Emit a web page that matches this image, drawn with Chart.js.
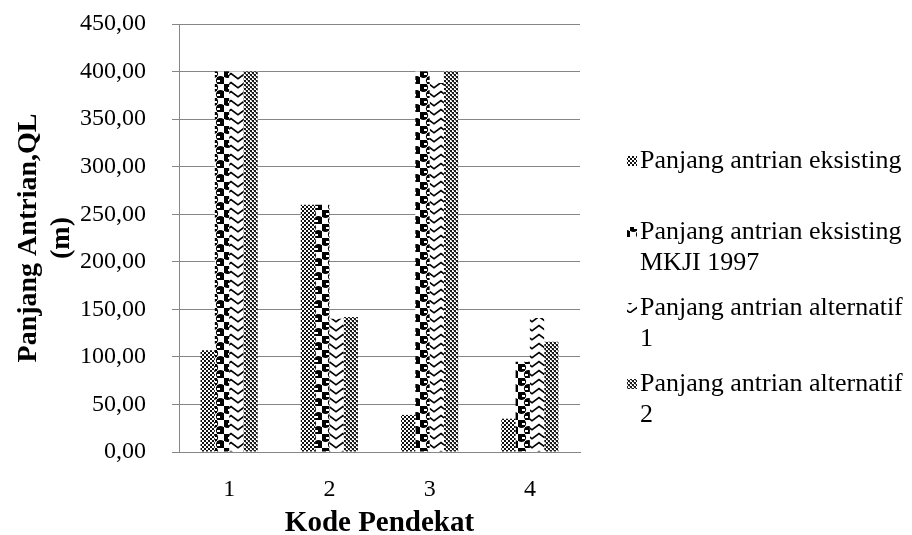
<!DOCTYPE html>
<html>
<head>
<meta charset="utf-8">
<script src="https://cdn.jsdelivr.net/npm/chart.js@4.4.0/dist/chart.umd.min.js"></script>
<style>
  html, body { margin: 0; padding: 0; background: #ffffff; }
  #wrap { width: 912px; height: 535px; }
</style>
</head>
<body>
<div id="wrap"><canvas id="c" width="912" height="535"></canvas></div>
<script>
// Queue lengths (m) per approach code
const kodePendekat = ['1', '2', '3', '4'];
const antrianEksisting = [107, 260, 39, 35];
const antrianMkji1997 = [400, 260, 400, 95];
const antrianAlternatif1 = [400, 140, 388, 141];
const antrianAlternatif2 = [400, 142, 400, 116];
const seriesNames = [
  ['Panjang antrian eksisting'],
  ['Panjang antrian eksisting', 'MKJI 1997'],
  ['Panjang antrian alternatif', '1'],
  ['Panjang antrian alternatif', '2']
];
const yMin = 0, yMax = 450, yStep = 50;

const SERIF = '"Liberation Serif", "Times New Roman", serif';
const canvas = document.getElementById('c');
const ctx = canvas.getContext('2d');

function tile(w, h, draw) {
  const c = document.createElement('canvas');
  c.width = w; c.height = h;
  const g = c.getContext('2d');
  g.fillStyle = '#ffffff';
  g.fillRect(0, 0, w, h);
  draw(g);
  return ctx.createPattern(c, 'repeat');
}

// fine checkerboard
const patEksisting = tile(4, 4, g => {
  g.fillStyle = '#111';
  g.fillRect(0, 0, 2, 2);
  g.fillRect(2, 2, 2, 2);
});

// black blobs with white dashes
const patMkji = tile(14, 14, g => {
  g.fillStyle = '#000';
  g.beginPath(); g.arc(3.5, 3.5, 4.6, 0, Math.PI * 2); g.fill();
  g.beginPath(); g.arc(10.5, 10.5, 4.6, 0, Math.PI * 2); g.fill();
  g.fillRect(0, 0, 7, 7);
  g.fillRect(7, 7, 7, 7);
  g.fillStyle = '#fff';
  g.fillRect(4, 3, 3, 2);
  g.fillRect(7, 10, 3, 2);
});

// chevron zigzag lines
const patAlt1 = tile(14, 9, g => {
  g.strokeStyle = '#000';
  g.lineWidth = 1.6;
  g.beginPath();
  g.moveTo(-1, 7.5); g.lineTo(7, 1.5); g.lineTo(15, 7.5);
  g.stroke();
});

// checkerboard with grey dots
const patAlt2 = tile(4, 4, g => {
  g.fillStyle = '#1a1a1a';
  g.fillRect(0, 0, 2, 2);
  g.fillRect(2, 2, 2, 2);
  g.fillStyle = '#9a9a9a';
  g.fillRect(3, 0, 1, 1);
  g.fillRect(1, 2, 1, 1);
});

const patterns = [patEksisting, patMkji, patAlt1, patAlt2];
const seriesValues = [antrianEksisting, antrianMkji1997, antrianAlternatif1, antrianAlternatif2];

// Legend on the right, with wrapped labels
const sideLegend = {
  id: 'sideLegend',
  afterDraw(chart) {
    const c = chart.ctx;
    const itemY = [161, 232, 308, 384];
    const lineGap = 31;
    const boxX = 627, boxSize = 10, textX = 640;
    c.save();
    c.font = '26px ' + SERIF;
    c.textBaseline = 'middle';
    c.textAlign = 'left';
    chart.data.datasets.forEach((ds, i) => {
      const y = itemY[i];
      c.fillStyle = ds.backgroundColor;
      c.fillRect(boxX, y - boxSize / 2, boxSize, boxSize);
      c.fillStyle = '#000';
      ds.label.forEach((line, k) => c.fillText(line, textX, y + k * lineGap));
    });
    c.restore();
  }
};

new Chart(ctx, {
  type: 'bar',
  data: {
    labels: kodePendekat,
    datasets: seriesValues.map((vals, i) => ({
      label: seriesNames[i],
      data: vals,
      backgroundColor: patterns[i],
      borderWidth: 0,
      barPercentage: 1.0,
      categoryPercentage: 0.57
    }))
  },
  options: {
    responsive: false,
    animation: false,
    devicePixelRatio: 1,
    layout: { padding: { top: 24, right: 332, bottom: 0, left: 0 } },
    plugins: {
      legend: { display: false },
      tooltip: { enabled: false }
    },
    scales: {
      x: {
        grid: { display: false },
        border: { display: true, color: '#868686', width: 1 },
        ticks: {
          color: '#000',
          font: { family: SERIF, size: 24 },
          padding: 15
        },
        title: {
          display: true,
          text: 'Kode Pendekat',
          color: '#000',
          font: { family: SERIF, size: 29, weight: 'bold', lineHeight: 1.0 },
          padding: { top: 0, bottom: -3 }
        },
        afterFit(scale) { scale.height = 83; }
      },
      y: {
        min: yMin,
        max: yMax,
        grid: {
          color: '#868686',
          lineWidth: 1,
          drawTicks: true,
          tickLength: 7
        },
        border: { display: true, color: '#868686', width: 1 },
        ticks: {
          stepSize: yStep,
          color: '#000',
          font: { family: SERIF, size: 24 },
          padding: 26,
          callback: v => v.toFixed(2).replace('.', ',')
        },
        title: {
          display: true,
          text: ['Panjang Antrian,QL', '(m)'],
          color: '#000',
          font: { family: SERIF, size: 28, weight: 'bold', lineHeight: 1.15 },
          padding: { top: 13, bottom: 0 }
        },
        afterFit(scale) {
          scale.width = 179;
          scale.paddingTop = 0;
          scale.paddingBottom = 0;
        }
      }
    }
  },
  plugins: [sideLegend]
});
</script>
</body>
</html>
